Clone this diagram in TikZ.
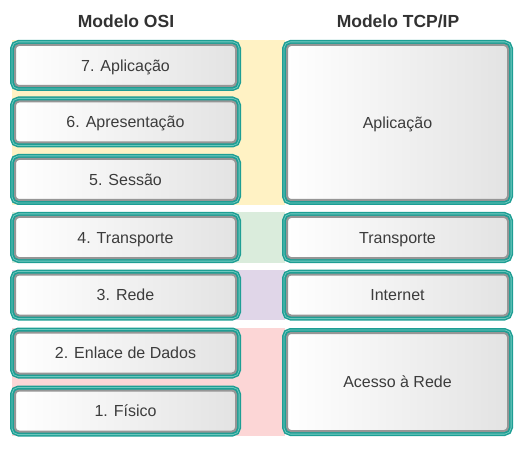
\documentclass[tikz,border=0pt]{standalone}
\usepackage{fontspec}
\setmainfont{Liberation Sans}
\usetikzlibrary{shadings}
\definecolor{tealA}{RGB}{30,158,148}
\definecolor{tealL}{RGB}{120,205,195}
\definecolor{bandY}{RGB}{255,242,196}
\definecolor{bandG}{RGB}{218,236,220}
\definecolor{bandP}{RGB}{224,214,232}
\definecolor{bandR}{RGB}{252,214,214}
\definecolor{boxline}{RGB}{150,150,150}
\definecolor{txt}{RGB}{60,60,60}
\definecolor{ttl}{RGB}{50,50,50}
\tikzset{
  layer/.style={rounded corners=4pt, inner sep=0pt, outer sep=0pt,
    minimum width=221pt, minimum height=41pt,
    text height=11.5pt, text depth=0pt,
    font=\fontsize{16}{18}\selectfont, text=txt,
    preaction={draw=tealA, line width=10pt},
    preaction={draw=tealL, line width=7pt},
    preaction={draw=tealA, line width=5.4pt},
    left color=white, right color=black!11,
    draw=boxline, line width=2pt},
  title/.style={font=\fontsize{17.5}{20}\selectfont\bfseries, text=ttl}
}
\begin{document}
\begin{tikzpicture}[x=1pt,y=-1pt]
\useasboundingbox (0,0) rectangle (522,449);
% bands
\fill[bandY] (12,40) rectangle (285,205);
\fill[bandG] (12,212) rectangle (285,263);
\fill[bandP] (12,270) rectangle (285,320);
\fill[bandR] (12,328) rectangle (285,436);
% titles
\node[title] (tosi) at (126,21) {Modelo OSI};
\node[title] (ttcp) at (398,21) {Modelo TCP/IP};
% OSI layers
\node[layer] (l7) at (125.5,65.5) {7. Aplicação};
\node[layer] (l6) at (125.5,122) {6. Apresentação};
\node[layer] (l5) at (125.5,179.5) {5. Sessão};
\node[layer] (l4) at (125.5,237.5) {4. Transporte};
\node[layer] (l3) at (125.5,295) {3. Rede};
\node[layer] (l2) at (125.5,353) {2. Enlace de Dados};
\node[layer] (l1) at (125.5,411) {1. Físico};
% TCP/IP layers
\node[layer, minimum height=155pt] (tapp) at (397.5,122.5) {Aplicação};
\node[layer] (ttra) at (397.5,237.5) {Transporte};
\node[layer] (tint) at (397.5,295) {Internet};
\node[layer, minimum height=98pt] (tacc) at (397.5,382) {Acesso à Rede};
\end{tikzpicture}
\end{document}
